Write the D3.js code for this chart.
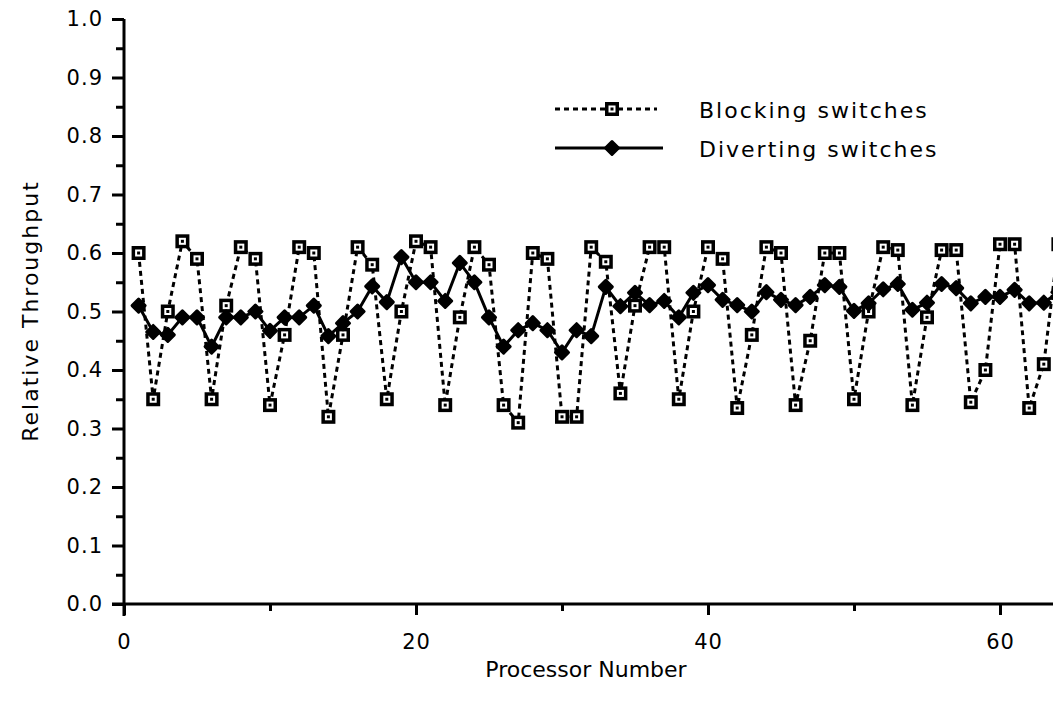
<!DOCTYPE html>
<meta charset="utf-8">
<style>
body { margin: 0; background: #fff; }
svg { display: block; font-family: "DejaVu Sans", sans-serif; }
.axis path, .axis line { stroke: #000; stroke-width: 3px; }
.title { font-size: 22px; fill: #000; }
.legend text { font-size: 22px; letter-spacing: 2px; fill: #000; }
</style>
<body>
<script src="https://cdn.jsdelivr.net/npm/d3@7/dist/d3.min.js"></script>
<script>

// processor numbers 1..64
var processors = d3.range(1, 65);

// relative throughput
var blocking = [0.60,0.35,0.50,0.62,0.59,0.35,0.51,0.61,0.59,0.34,
  0.46,0.61,0.60,0.32,0.46,0.61,0.58,0.35,0.50,0.62,
  0.61,0.34,0.49,0.61,0.58,0.34,0.31,0.60,0.59,0.32,
  0.32,0.61,0.585,0.36,0.51,0.61,0.61,0.35,0.50,0.61,
  0.59,0.335,0.46,0.61,0.60,0.34,0.45,0.60,0.60,0.35,
  0.50,0.61,0.605,0.34,0.49,0.605,0.605,0.345,0.40,0.615,
  0.615,0.335,0.41,0.615];

var diverting = [0.51,0.465,0.46,0.49,0.49,0.44,0.49,0.49,0.50,0.467,
  0.49,0.49,0.51,0.458,0.48,0.50,0.543,0.516,0.593,0.55,
  0.55,0.518,0.583,0.55,0.49,0.44,0.468,0.48,0.468,0.43,
  0.468,0.458,0.542,0.509,0.532,0.511,0.518,0.49,0.532,0.545,
  0.52,0.511,0.50,0.533,0.52,0.511,0.525,0.545,0.542,0.501,
  0.514,0.538,0.547,0.503,0.515,0.547,0.54,0.514,0.525,0.525,
  0.537,0.514,0.515,0.533];

var seriesNames = ["Blocking switches", "Diverting switches"];
var xTickLabels = [0, 20, 40, 60];
var yTickLabels = [0, 0.1, 0.2, 0.3, 0.4, 0.5, 0.6, 0.7, 0.8, 0.9, 1.0];

var W = 1053, H = 709;
var x0 = 124, y0 = 604;

var x = d3.scaleLinear().domain([0, 60]).range([x0, x0 + 60 * 14.6]);
var y = d3.scaleLinear().domain([0, 1]).range([y0, 19]);

var svg = d3.select("body").append("svg")
    .attr("width", W).attr("height", H);

function styleLabels(g) {
  g.select(".domain").remove();
  g.selectAll("text")
      .style("font-family", "'DejaVu Sans', sans-serif")
      .style("font-size", "21px")
      .style("letter-spacing", "1px")
      .attr("fill", "#000");
}

// Y axis: minor ticks every 0.05, labelled ticks every 0.1
svg.append("g").attr("class", "axis")
    .attr("transform", "translate(" + x0 + ",0)")
    .call(d3.axisLeft(y).tickValues(d3.range(0.05, 1, 0.1)).tickSize(8).tickFormat(""))
    .call(styleLabels);

svg.append("g").attr("class", "axis")
    .attr("transform", "translate(" + x0 + ",0)")
    .call(d3.axisLeft(y).tickValues(yTickLabels).tickSize(12).tickPadding(9)
        .tickFormat(d3.format(".1f")))
    .call(styleLabels);

// X axis
svg.append("g").attr("class", "axis")
    .attr("transform", "translate(0," + y0 + ")")
    .call(d3.axisBottom(x).tickValues([10, 30, 50]).tickSize(7).tickFormat(""))
    .call(styleLabels);

svg.append("g").attr("class", "axis")
    .attr("transform", "translate(0," + y0 + ")")
    .call(d3.axisBottom(x).tickValues(xTickLabels).tickSize(11).tickPadding(19))
    .call(styleLabels);

// axis lines
svg.append("line").attr("x1", x0).attr("x2", x0).attr("y1", y(1)).attr("y2", y0 + 12)
    .attr("stroke", "#000").attr("stroke-width", 3);
svg.append("line").attr("x1", x0 - 12).attr("x2", W).attr("y1", y0).attr("y2", y0)
    .attr("stroke", "#000").attr("stroke-width", 3);

// axis titles
svg.append("text").attr("class", "title")
    .attr("x", 586).attr("y", 677).attr("text-anchor", "middle")
    .style("letter-spacing", "0px")
    .text("Processor Number");
svg.append("text").attr("class", "title")
    .attr("transform", "translate(38,311) rotate(-90)")
    .attr("text-anchor", "middle")
    .style("letter-spacing", "2px")
    .text("Relative Throughput");

var line = d3.line()
    .x(function(d, i) { return x(processors[i]); })
    .y(function(d) { return y(d); });

// blocking series: dashed line with open squares
svg.append("path").datum(blocking)
    .attr("fill", "none").attr("stroke", "#000").attr("stroke-width", 3)
    .attr("stroke-dasharray", "5,4")
    .attr("d", line);

function square(g, cx, cy) {
  g.append("rect").attr("x", cx - 7).attr("y", cy - 7).attr("width", 14).attr("height", 14)
      .attr("fill", "#000");
  g.append("rect").attr("x", cx - 3.5).attr("y", cy - 3.5).attr("width", 7).attr("height", 7)
      .attr("fill", "#fff");
  g.append("rect").attr("x", cx - 1.5).attr("y", cy - 1.5).attr("width", 3).attr("height", 3)
      .attr("fill", "#000");
}

var sq = svg.append("g");
blocking.forEach(function(d, i) { square(sq, x(processors[i]), y(d)); });

// diverting series: solid line with filled diamonds
svg.append("path").datum(diverting)
    .attr("fill", "none").attr("stroke", "#000").attr("stroke-width", 3)
    .attr("d", line);

var diamond = d3.symbol().type(d3.symbolSquare).size(85);
svg.append("g").selectAll("path")
    .data(diverting)
  .enter().append("path")
    .attr("transform", function(d, i) { return "translate(" + x(processors[i]) + "," + y(d) + ") rotate(45)"; })
    .attr("d", diamond)
    .attr("fill", "#000")
    .attr("stroke", "#000").attr("stroke-width", 3).attr("stroke-linejoin", "round");

// legend
var legend = svg.append("g").attr("class", "legend");
legend.append("line").attr("x1", 555).attr("x2", 657).attr("y1", 109).attr("y2", 109)
    .attr("stroke", "#000").attr("stroke-width", 3).attr("stroke-dasharray", "5,4");
square(legend, 612, 109);
legend.append("text").attr("x", 699).attr("y", 118).text(seriesNames[0]);

legend.append("line").attr("x1", 555).attr("x2", 663).attr("y1", 148).attr("y2", 148)
    .attr("stroke", "#000").attr("stroke-width", 3);
legend.append("path").attr("transform", "translate(612,148) rotate(45)").attr("d", diamond)
    .attr("fill", "#000").attr("stroke", "#000").attr("stroke-width", 3).attr("stroke-linejoin", "round");
legend.append("text").attr("x", 699).attr("y", 157).text(seriesNames[1]);

</script>
</body>
